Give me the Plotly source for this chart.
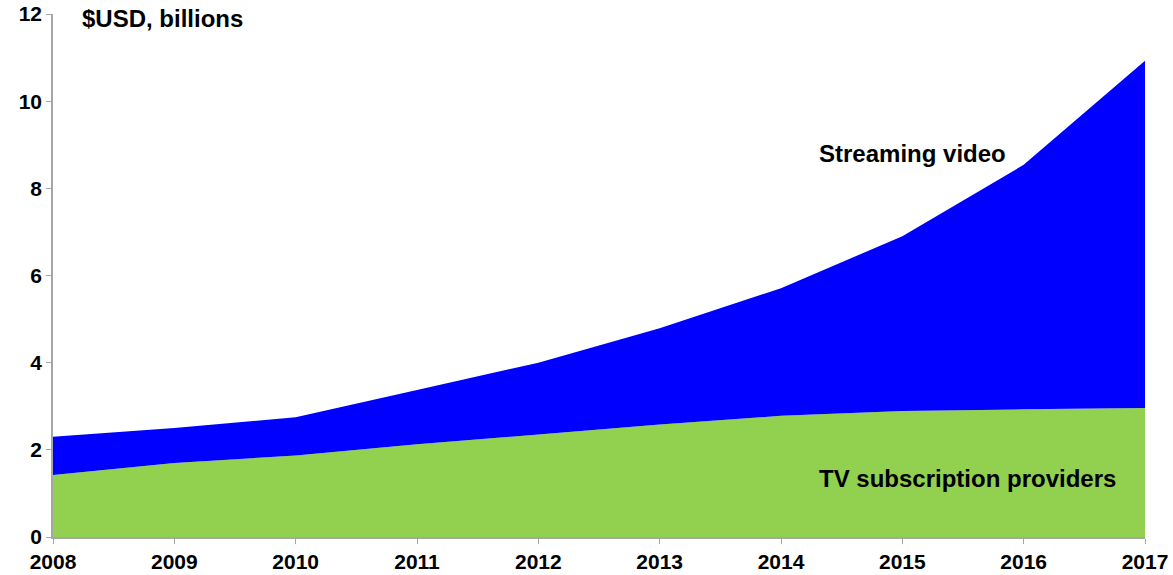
import plotly.graph_objects as go

years = [2008, 2009, 2010, 2011, 2012, 2013, 2014, 2015, 2016, 2017]
tv_subscription = [1.42, 1.70, 1.87, 2.13, 2.35, 2.58, 2.78, 2.89, 2.93, 2.96]
streaming_video = [0.88, 0.80, 0.88, 1.24, 1.65, 2.21, 2.93, 4.01, 5.61, 7.97]
y_ticks = [0, 2, 4, 6, 8, 10, 12]

FONT = "Liberation Sans, Arial, sans-serif"
TICK_FS = 21
ANN_FS = 24

fig = go.Figure()
fig.add_trace(go.Scatter(
    x=years, y=tv_subscription, stackgroup="one", mode="none",
    fillcolor="#92D050", name="TV subscription providers", hoverinfo="x+y"))
fig.add_trace(go.Scatter(
    x=years, y=streaming_video, stackgroup="one", mode="none",
    fillcolor="#0000FF", name="Streaming video", hoverinfo="x+y"))

fig.update_layout(
    width=1173, height=575,
    margin=dict(l=53, r=28, t=14, b=38),
    paper_bgcolor="white", plot_bgcolor="white",
    showlegend=False,
    font=dict(family=FONT, size=TICK_FS, color="black"),
    xaxis=dict(
        range=[2008, 2017], tickvals=years, ticktext=[f"<b>{y}</b>" for y in years],
        showgrid=False, zeroline=False, showline=True, linecolor="#A6A6A6",
        linewidth=1.5, ticks="outside", ticklen=5, tickcolor="#A6A6A6",
        tickfont=dict(family=FONT, size=TICK_FS, color="black"), automargin=False,
    ),
    yaxis=dict(
        range=[0, 12], tickvals=y_ticks, ticktext=[f"<b>{v}</b>" for v in y_ticks],
        showgrid=False, zeroline=False, showline=True, linecolor="#A6A6A6",
        linewidth=1.5, ticks="outside", ticklen=5, tickcolor="#A6A6A6",
        tickfont=dict(family=FONT, size=TICK_FS, color="black"), automargin=False,
    ),
    annotations=[
        dict(text="<b>$USD, billions</b>", xref="paper", yref="paper", x=0.0247, y=0.992,
             xanchor="left", yanchor="middle", showarrow=False,
             font=dict(family=FONT, size=ANN_FS, color="black")),
        dict(text="<b>Streaming video</b>", xref="x", yref="y", x=2014.30, y=8.8,
             xanchor="left", yanchor="middle", showarrow=False,
             font=dict(family=FONT, size=ANN_FS, color="black")),
        dict(text="<b>TV subscription providers</b>", xref="x", yref="y", x=2014.30, y=1.35,
             xanchor="left", yanchor="middle", showarrow=False,
             font=dict(family=FONT, size=ANN_FS, color="black")),
    ],
)

fig.write_html("out.html")
